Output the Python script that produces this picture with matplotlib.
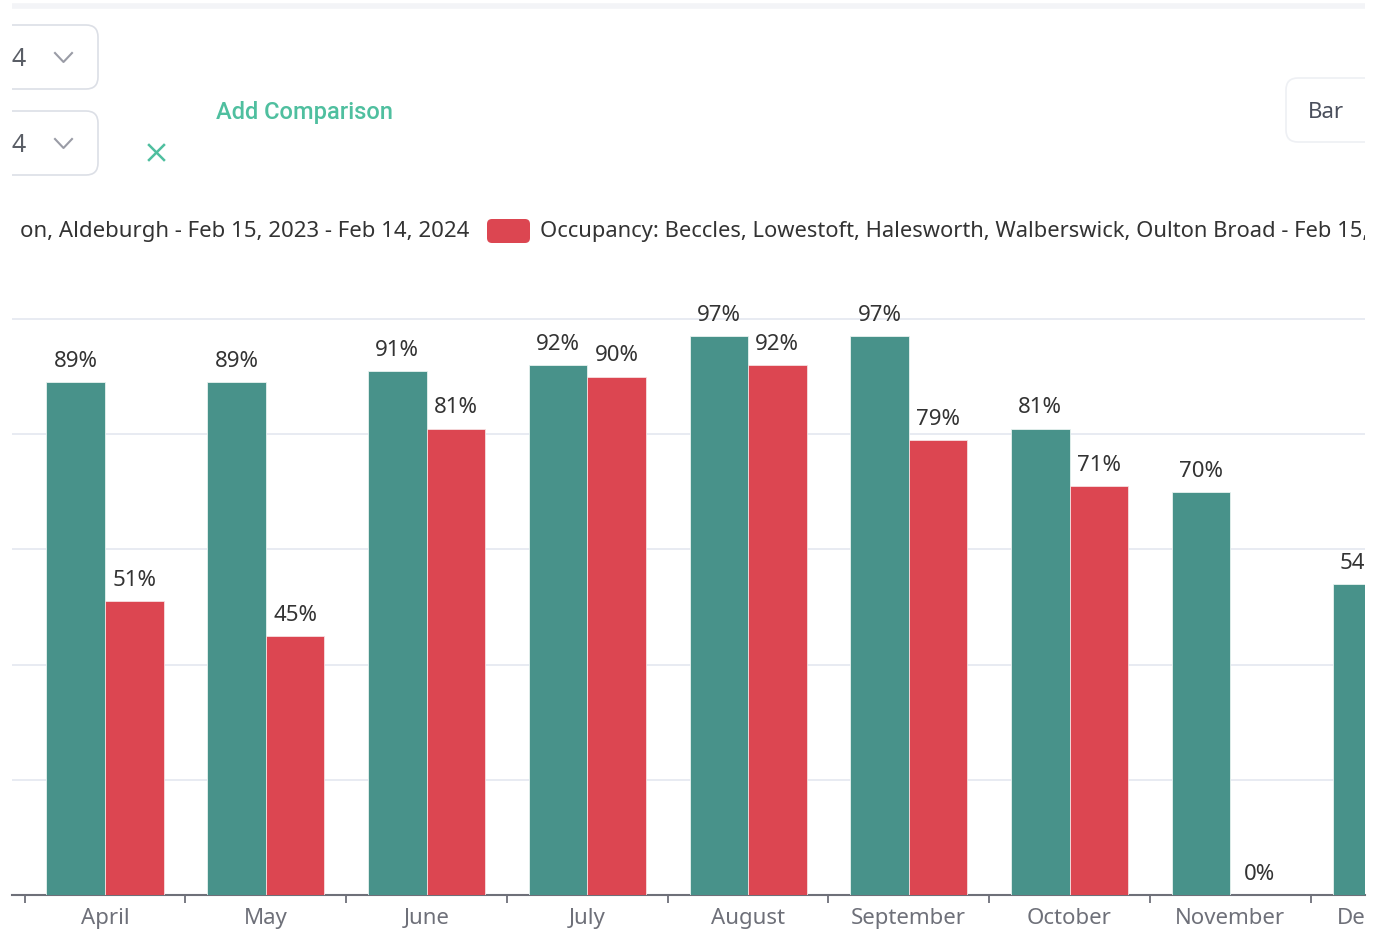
import numpy as np
import matplotlib
matplotlib.use("Agg")
import matplotlib.pyplot as plt
from matplotlib.patches import FancyBboxPatch

plt.rcParams['font.family'] = ['Noto Sans', 'DejaVu Sans']

# data
months = ["April", "May", "June", "July", "August", "September", "October", "November", "December"]
occ_first = [89, 89, 91, 92, 97, 97, 81, 70, 54]
occ_second = [51, 45, 81, 90, 92, 79, 71, 0, np.nan]
first_label_tail = "on, Aldeburgh - Feb 15, 2023 - Feb 14, 2024"
second_label = "Occupancy: Beccles, Lowestoft, Halesworth, Walberswick, Oulton Broad - Feb 15,"

TEAL = "#48928a"
RED = "#dc4651"
GREEN_UI = "#4fbf9f"
W, H = 1385, 931

fig = plt.figure(figsize=(W / 100, H / 100), dpi=100)
fig.patch.set_facecolor("white")

# page / UI layer in pixel coords (clipped to the visible strip)
ui = fig.add_axes([12 / W, 0, (1365 - 12) / W, 1])
ui.set_xlim(12, 1365)
ui.set_ylim(H, 0)
ui.axis("off")

ui.plot([12, 1365], [6, 6], color="#f3f4f7", lw=4, solid_capstyle="butt")

for y0 in (25, 111):
    box = FancyBboxPatch((-40, y0), 138, 64, boxstyle="round,pad=0,rounding_size=12",
                         fc="white", ec="#dcdfe6", lw=1.2)
    ui.add_patch(box)
    ui.text(19, y0 + 34, "4", ha="center", va="center", fontsize=18, color="#5a5e66")
    ui.plot([55, 63.5, 72], [y0 + 28, y0 + 37, y0 + 28], color="#9a9ca6", lw=1.5)

ui.text(216, 112, "Add Comparison", ha="left", va="center", fontsize=17,
        family=["Roboto", "DejaVu Sans"], fontweight="medium", color=GREEN_UI)
ui.plot([149, 164], [145, 160], color=GREEN_UI, lw=1.8)
ui.plot([149, 164], [160, 145], color=GREEN_UI, lw=1.8)

bar_btn = FancyBboxPatch((1286, 78), 140, 64, boxstyle="round,pad=0,rounding_size=12",
                         fc="white", ec="#eef0f4", lw=1.2)
ui.add_patch(bar_btn)
ui.text(1308, 112, "Bar", ha="left", va="center", fontsize=16, color="#4a4f5c")

# legend row
ui.text(20, 231, first_label_tail, ha="left", va="center", fontsize=16, color="#333333",
        clip_on=True)
leg = FancyBboxPatch((487, 219), 43, 24, boxstyle="round,pad=0,rounding_size=5",
                     fc=RED, ec="none")
ui.add_patch(leg)
ui.text(540, 231, second_label, ha="left", va="center", fontsize=15.8, color="#333333",
        clip_on=True)

# main chart
ax = fig.add_axes([12 / W, (H - 895) / H, (1365 - 12) / W, (895 - 250) / H])
ax.set_zorder(2)
ax.patch.set_alpha(0)

x = np.arange(len(months))
bw = 0.364
ax.bar(x - bw / 2, occ_first, bw, color=TEAL, edgecolor="#e8f2f0", linewidth=0.6, zorder=3)
ax.bar(x + bw / 2, occ_second, bw, color=RED, edgecolor="#f6dfe1", linewidth=0.6, zorder=3)

for xi, v in zip(x - bw / 2, occ_first):
    if not np.isnan(v):
        ax.annotate(f"{v:.0f}%", (xi, v), xytext=(0, 15), textcoords="offset points",
                    ha="center", va="center", fontsize=16, color="#333333", clip_on=True)
for xi, v in zip(x + bw / 2, occ_second):
    if not np.isnan(v):
        ax.annotate(f"{v:.0f}%", (xi, v), xytext=(0, 15), textcoords="offset points",
                    ha="center", va="center", fontsize=16, color="#333333", clip_on=True)

ax.set_yticks([20, 40, 60, 80, 100])
ax.yaxis.grid(True, color="#e4e7f0", lw=1.2)
ax.set_axisbelow(True)
ax.tick_params(axis="y", length=0, labelleft=False)

ax.set_xticks(x - 0.5)
ax.set_xticklabels([])
ax.tick_params(axis="x", which="major", length=6, width=1.3, color="#6e7079", direction="out")

# month labels as texts so the last one can be cut at the page edge
for xi, m in zip(x, months):
    t = ax.text(xi, -0.036, m, transform=ax.get_xaxis_transform(), ha="center", va="center",
                fontsize=16, color="#6e7079")
    t.set_clip_box(ui.bbox)
    t.set_clip_on(True)

ax.set_xlim(-0.5785, 7.838)
ax.set_ylim(0, 112)

for s in ("top", "right", "left"):
    ax.spines[s].set_visible(False)
ax.spines["bottom"].set_color("#6e7079")
ax.spines["bottom"].set_linewidth(1.5)

fig.savefig("out.png", dpi=100)
